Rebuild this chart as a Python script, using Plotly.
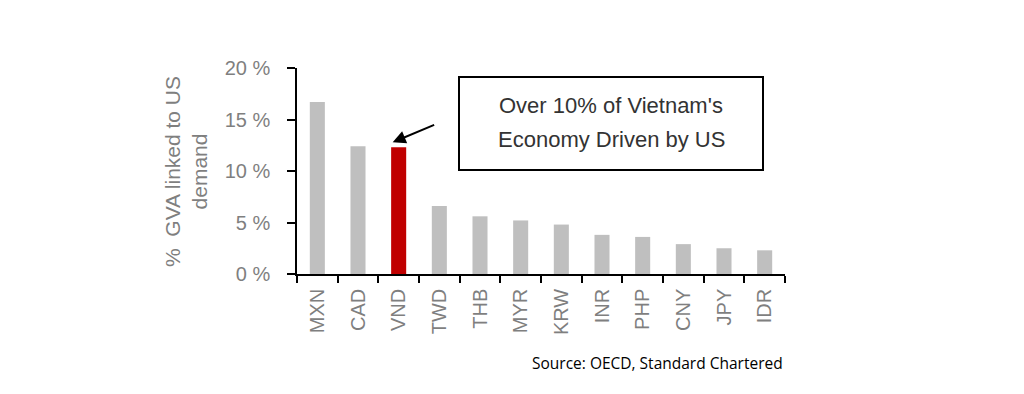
import plotly.graph_objects as go

categories = ["MXN", "CAD", "VND", "TWD", "THB", "MYR", "KRW", "INR", "PHP", "CNY", "JPY", "IDR"]
values = [16.7, 12.4, 12.3, 6.6, 5.6, 5.2, 4.8, 3.8, 3.6, 2.9, 2.5, 2.3]
highlight = "VND"
y_ticks = [0, 5, 10, 15, 20]
y_tick_labels = ["0 %", "5 %", "10 %", "15 %", "20 %"]

colors = ["#c00000" if c == highlight else "#bfbfbf" for c in categories]

fig = go.Figure(go.Bar(x=categories, y=values, marker=dict(color=colors, line=dict(width=0)),
                       width=0.37))

# plot area (screen coords): x 297..785, y 68..274
PX0, PW, PY0, PH = 297, 488, 68, 206
def px(x):
    return (x - PX0) / PW
def py(y):
    return (PY0 + PH - y) / PH

gray = "#7f7f7f"
fig.update_layout(
    width=1024, height=394,
    margin=dict(l=289, r=247, t=60, b=128),
    plot_bgcolor="white", paper_bgcolor="white",
    showlegend=False,
    font=dict(family="Liberation Sans", color=gray),
    xaxis=dict(
        type="category", tickson="boundaries", ticks="outside", ticklen=7, tickwidth=1.5,
        tickcolor="black", showline=True, linecolor="black", linewidth=1.5,
        tickangle=-90, tickfont=dict(size=20, color=gray), showgrid=False,
        ticklabelstandoff=5,
    ),
    yaxis=dict(
        range=[0, 20], tickvals=y_ticks, ticktext=y_tick_labels,
        ticks="outside", ticklen=8, tickwidth=1.5, tickcolor="black",
        showline=True, linecolor="black", linewidth=1.5, showgrid=False, zeroline=False,
        tickfont=dict(size=20, color=gray), ticklabelstandoff=13,
    ),
)

# y-axis title
fig.add_annotation(xref="paper", yref="paper", x=px(186), y=py(172),
                   text="%  GVA linked to US<br>demand", textangle=-90, showarrow=False,
                   font=dict(size=21, color=gray), xanchor="center", yanchor="middle")

# callout box
fig.add_shape(type="rect", xref="paper", yref="paper",
              x0=px(459), x1=px(763), y0=py(170), y1=py(77),
              line=dict(color="black", width=2), fillcolor="white")
fig.add_annotation(xref="paper", yref="paper", x=px(611), y=py(105),
                   text="Over 10% of Vietnam's", showarrow=False,
                   font=dict(size=22, color="#333333"), xanchor="center", yanchor="middle")
fig.add_annotation(xref="paper", yref="paper", x=px(611), y=py(139),
                   text="Economy Driven by US", showarrow=False,
                   font=dict(size=22, color="#333333"), xanchor="center", yanchor="middle")

# arrow
fig.add_annotation(x=highlight, y=12.3, xref="x", yref="y", ax=43, ay=-18, axref="pixel",
                   ayref="pixel", xshift=-6, yshift=5, text="", showarrow=True, arrowhead=2,
                   arrowsize=1.3, arrowwidth=2, arrowcolor="black", standoff=0)

# source
fig.add_annotation(xref="paper", yref="paper", x=1.0, y=py(363),
                   text="Source: OECD, Standard Chartered", showarrow=False,
                   font=dict(size=15.5, color="black", family="Open Sans"),
                   xanchor="right", yanchor="middle")

fig.write_html("out.html")
